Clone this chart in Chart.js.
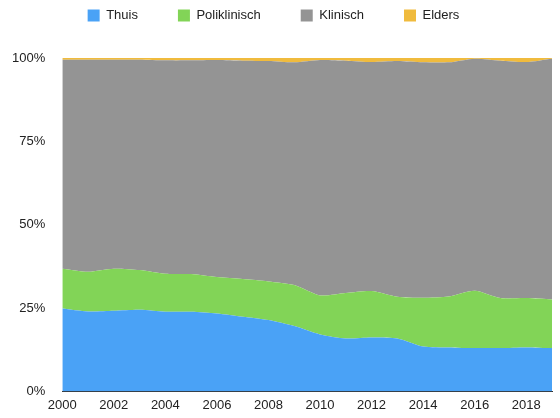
<!DOCTYPE html>
<html>
<head>
<meta charset="utf-8">
<script src="https://cdn.jsdelivr.net/npm/chart.js@4"></script>
<style>
html,body{margin:0;padding:0;background:#fff;}
#wrap{width:560px;height:418px;position:relative;}
</style>
</head>
<body>
<div id="wrap"><canvas id="c"></canvas></div>
<script>
const years = ['2000','2001','2002','2003','2004','2005','2006','2007','2008','2009','2010','2011','2012','2013','2014','2015','2016','2017','2018','2019'];
const thuis = [24.9,24.0,24.2,24.5,23.9,23.9,23.4,22.4,21.4,19.6,17.1,15.9,16.2,15.9,13.5,13.2,13.0,13.0,13.2,13.0];
const poliklinisch = [11.9,11.9,12.6,11.9,11.4,11.3,10.9,11.3,11.6,12.3,11.7,13.6,13.9,12.5,14.6,15.3,17.2,15.0,14.8,14.6];
const klinisch = [62.7,63.6,62.7,63.1,64.0,64.1,65.1,65.5,66.1,66.8,70.6,69.7,68.7,70.7,70.6,70.2,69.6,71.2,70.8,72.2];
const elders = [0.5,0.5,0.5,0.5,0.7,0.7,0.6,0.8,0.9,1.3,0.6,0.8,1.2,0.9,1.3,1.3,0.2,0.8,1.2,0.2];
const yTicks = [0,25,50,75,100];

const FONT = "'Liberation Sans', Arial, Helvetica, sans-serif";
function ds(label, data, color, fill){
  return {label, data, backgroundColor: color, borderColor: color, borderWidth: 0,
    pointRadius: 0, pointHoverRadius: 0, fill, tension: 0.25};
}
new Chart(document.getElementById('c'), {
  type: 'line',
  data: {
    labels: years,
    datasets: [
      ds('Thuis', thuis, '#4aa2f6', 'origin'),
      ds('Poliklinisch', poliklinisch, '#82d457', '-1'),
      ds('Klinisch', klinisch, '#949494', '-1'),
      ds('Elders', elders, '#f0bb3d', '-1')
    ]
  },
  options: {
    responsive: true,
    maintainAspectRatio: false,
    animation: false,
    layout: {padding: {top: -31, left: -5, right: 8, bottom: -1}},
    plugins: {
      legend: {
        position: 'top',
        labels: {boxWidth: 12, boxHeight: 12, padding: 40, color: '#222', font: {family: FONT, size: 13}}
      },
      subtitle: {display: true, text: '', position: 'top', weight: 500, padding: 0, font: {size: 26, lineHeight: 1}},
      tooltip: {enabled: false}
    },
    scales: {
      x: {
        grid: {display: false, drawTicks: false},
        border: {display: true, color: '#333', width: 1},
        ticks: {
          autoSkip: false, maxRotation: 0, padding: 6, color: '#222', font: {family: FONT, size: 13},
          callback: function(v, i){ const y = years[i]; return (parseInt(y) % 2 === 0) ? y : ''; }
        }
      },
      y: {
        stacked: true,
        min: 0, max: 100,
        afterBuildTicks: (s) => { s.ticks = yTicks.map(v => ({value: v})); },
        grid: {display: false, drawTicks: false},
        border: {display: false},
        ticks: {padding: 17, color: '#222', font: {family: FONT, size: 13}, callback: v => v + '%'}
      }
    }
  }
});
</script>
</body>
</html>
